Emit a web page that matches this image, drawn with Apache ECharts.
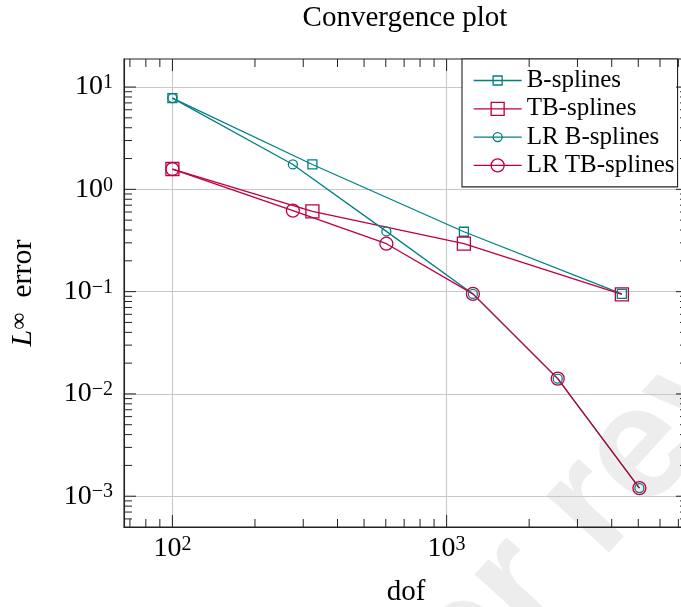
<!DOCTYPE html>
<html>
<head>
<meta charset="utf-8">
<title>Convergence plot</title>
<script src="https://cdn.jsdelivr.net/npm/echarts@6/dist/echarts.min.js"></script>
<style>
  html, body { margin: 0; padding: 0; background: #fff; }
  #chart { width: 681px; height: 607px; }
</style>
</head>
<body>
<div id="chart"></div>
<script>
// degrees of freedom
const dofUniform = [100, 324, 1156, 4356]
const dofLR = [100, 275, 603, 1247, 2542, 5047]

// L-infinity errors
const errB = [7.8, 1.75, 0.385, 0.095]
const errTB = [1.58, 0.61, 0.295, 0.094]
const errLRB = [7.8, 1.75, 0.388, 0.095, 0.0141, 0.0012]
const errLRTB = [1.58, 0.62, 0.294, 0.095, 0.0141, 0.0012]

const seriesNames = ['B-splines', 'TB-splines', 'LR B-splines', 'LR TB-splines']

// tick values (log axes, pgfplots style)
const majorX = [100, 1000]
const minorX = [70, 80, 90, 200, 300, 400, 500, 600, 700, 800, 900,
  2000, 3000, 4000, 5000, 6000, 7000]
const majorY = [0.001, 0.01, 0.1, 1, 10]
const minorY = [0.0006, 0.0007, 0.0008, 0.0009,
  0.002, 0.003, 0.004, 0.005, 0.006, 0.007, 0.008, 0.009,
  0.02, 0.03, 0.04, 0.05, 0.06, 0.07, 0.08, 0.09,
  0.2, 0.3, 0.4, 0.5, 0.6, 0.7, 0.8, 0.9,
  2, 3, 4, 5, 6, 7, 8, 9]

const TEAL = '#008080'
const PURPLE = '#bf0040'
const SERIF = '"Liberation Serif", "DejaVu Serif", serif'
const FRAME = '#222'

const chart = echarts.init(document.getElementById('chart'))

// 10^n labels with a raised exponent
const powerLabel = (v) => {
  const e = Math.log10(v)
  const n = Math.round(e)
  if (Math.abs(e - n) > 1e-6) return ''
  return '{b|10}{s|' + (n < 0 ? '\u2212' + (-n) : n) + '}'
}
const labelRich = {
  b: { fontFamily: SERIF, fontSize: 28, lineHeight: 28, padding: [4, 0, 0, 0], verticalAlign: 'bottom', color: '#000' },
  s: { fontFamily: SERIF, fontSize: 20, lineHeight: 20, verticalAlign: 'top', color: '#000' },
}

const lineSeries = (name, xs, ys, color, symbol, size) => ({
  name,
  type: 'line',
  data: xs.map((x, i) => [x, ys[i]]),
  symbol,
  symbolSize: size,
  showAllSymbol: true,
  lineStyle: { color, width: 1.3 },
  itemStyle: { color: 'transparent', borderColor: color, borderWidth: 1.3 },
  emphasis: { disabled: true },
  z: 3,
})

// ticks inside the frame on both sides
const tickSeries = (values, dim, len) => ({
  type: 'custom',
  silent: true,
  z: 4,
  clip: false,
  data: values.map((v) => (dim === 'x' ? [v, 1] : [100, v])),
  renderItem: (params, api) => {
    const cs = params.coordSys
    const p = api.coord([api.value(0), api.value(1)])
    const style = { stroke: FRAME, lineWidth: 1 }
    if (dim === 'x') {
      const b = cs.y + cs.height
      const t = cs.y
      return {
        type: 'group',
        children: [
          { type: 'line', shape: { x1: p[0], y1: b, x2: p[0], y2: b - len }, style },
          { type: 'line', shape: { x1: p[0], y1: t, x2: p[0], y2: t + len }, style },
        ],
      }
    }
    const l = cs.x
    const r = cs.x + cs.width
    return {
      type: 'group',
      children: [
        { type: 'line', shape: { x1: l, y1: p[1], x2: l + len, y2: p[1] }, style },
        { type: 'line', shape: { x1: r, y1: p[1], x2: r - len, y2: p[1] }, style },
      ],
    }
  },
})

const legendIcons = [
  'path://M0,0 L48,0 M19.5,-4.5 L28.5,-4.5 L28.5,4.5 L19.5,4.5 Z',
  'path://M0,0 L48,0 M17.5,-6.5 L30.5,-6.5 L30.5,6.5 L17.5,6.5 Z',
  'path://M0,0 L48,0 M19.5,0 A4.5,4.5 0 1 1 28.5,0 A4.5,4.5 0 1 1 19.5,0 Z',
  'path://M0,0 L48,0 M17.5,0 A6.5,6.5 0 1 1 30.5,0 A6.5,6.5 0 1 1 17.5,0 Z',
]
const legendColors = [TEAL, PURPLE, TEAL, PURPLE]

chart.setOption({
  animation: false,
  backgroundColor: '#fff',
  title: {
    text: 'Convergence plot',
    left: 405,
    top: 4,
    padding: 0,
    textAlign: 'center',
    textStyle: { fontFamily: SERIF, fontSize: 29, fontWeight: 'normal', color: '#000' },
  },
  graphic: [
    {
      type: 'text',
      x: 227,
      y: 905,
      rotation: 0.83,
      z: -10,
      silent: true,
      style: {
        text: 'Under review',
        font: 'bold 160px "Liberation Sans"',
        fill: '#ededed',
        align: 'left',
        verticalAlign: 'middle',
      },
    },
  ],
  grid: {
    left: 124,
    top: 59,
    width: 564,
    bottom: 80,
    show: true,
    borderColor: FRAME,
    borderWidth: 1.1,
    backgroundColor: 'transparent',
    containLabel: false,
    outerBoundsMode: 'none',
  },
  legend: {
    orient: 'vertical',
    left: 462,
    top: 59,
    padding: [9, 3, 9, 11],
    itemWidth: 48,
    itemHeight: 16,
    itemGap: 3.3,
    selectedMode: false,
    backgroundColor: '#fff',
    borderColor: FRAME,
    borderWidth: 1.1,
    borderRadius: 0,
    textStyle: { fontFamily: SERIF, fontSize: 25, color: '#000' },
    data: seriesNames.map((name, i) => ({
      name,
      icon: legendIcons[i],
      itemStyle: { color: 'transparent', borderColor: legendColors[i], borderWidth: 1.3 },
    })),
  },
  xAxis: {
    type: 'log',
    min: 66.6,
    max: 7590,
    splitNumber: 5,
    axisLine: { show: true, lineStyle: { color: FRAME, width: 1.1 } },
    axisTick: { show: false },
    minorTick: { show: false },
    splitLine: { show: true, showMinLine: false, showMaxLine: false, lineStyle: { color: '#c8c8c8', width: 1.1 } },
    axisLabel: { formatter: powerLabel, rich: labelRich, margin: 8, showMinLabel: true, showMaxLabel: true },
    name: 'dof',
    nameLocation: 'middle',
    nameGap: 51,
    nameTextStyle: { fontFamily: SERIF, fontSize: 29, lineHeight: 28, color: '#000' },
  },
  yAxis: {
    type: 'log',
    min: 0.0005,
    max: 18.8,
    splitNumber: 5,
    axisLine: { show: true, lineStyle: { color: FRAME, width: 1.1 } },
    axisTick: { show: false },
    minorTick: { show: false },
    splitLine: { show: true, showMinLine: false, showMaxLine: false, lineStyle: { color: '#c8c8c8', width: 1.1 } },
    axisLabel: { formatter: powerLabel, rich: labelRich, margin: 11, showMinLabel: true, showMaxLabel: true },
    name: '{it|L}{sup|\u221e}{t|  error}',
    nameLocation: 'middle',
    nameRotate: 90,
    nameGap: 86,
    nameTextStyle: {
      rich: {
        it: { fontFamily: SERIF, fontStyle: 'italic', fontSize: 30, lineHeight: 30, padding: [5, 0, 0, 0], verticalAlign: 'bottom', color: '#000' },
        sup: { fontFamily: SERIF, fontSize: 24, lineHeight: 24, verticalAlign: 'top', color: '#000' },
        t: { fontFamily: SERIF, fontSize: 30, lineHeight: 30, padding: [5, 0, 0, 0], verticalAlign: 'bottom', color: '#000' },
      },
    },
  },
  series: [
    lineSeries(seriesNames[0], dofUniform, errB, TEAL, 'rect', 9),
    lineSeries(seriesNames[1], dofUniform, errTB, PURPLE, 'rect', 13),
    lineSeries(seriesNames[2], dofLR, errLRB, TEAL, 'circle', 9),
    lineSeries(seriesNames[3], dofLR, errLRTB, PURPLE, 'circle', 13),
    tickSeries(majorX, 'x', 12),
    tickSeries(minorX, 'x', 8),
    tickSeries(majorY, 'y', 12),
    tickSeries(minorY, 'y', 8),
  ],
})
</script>
</body>
</html>
